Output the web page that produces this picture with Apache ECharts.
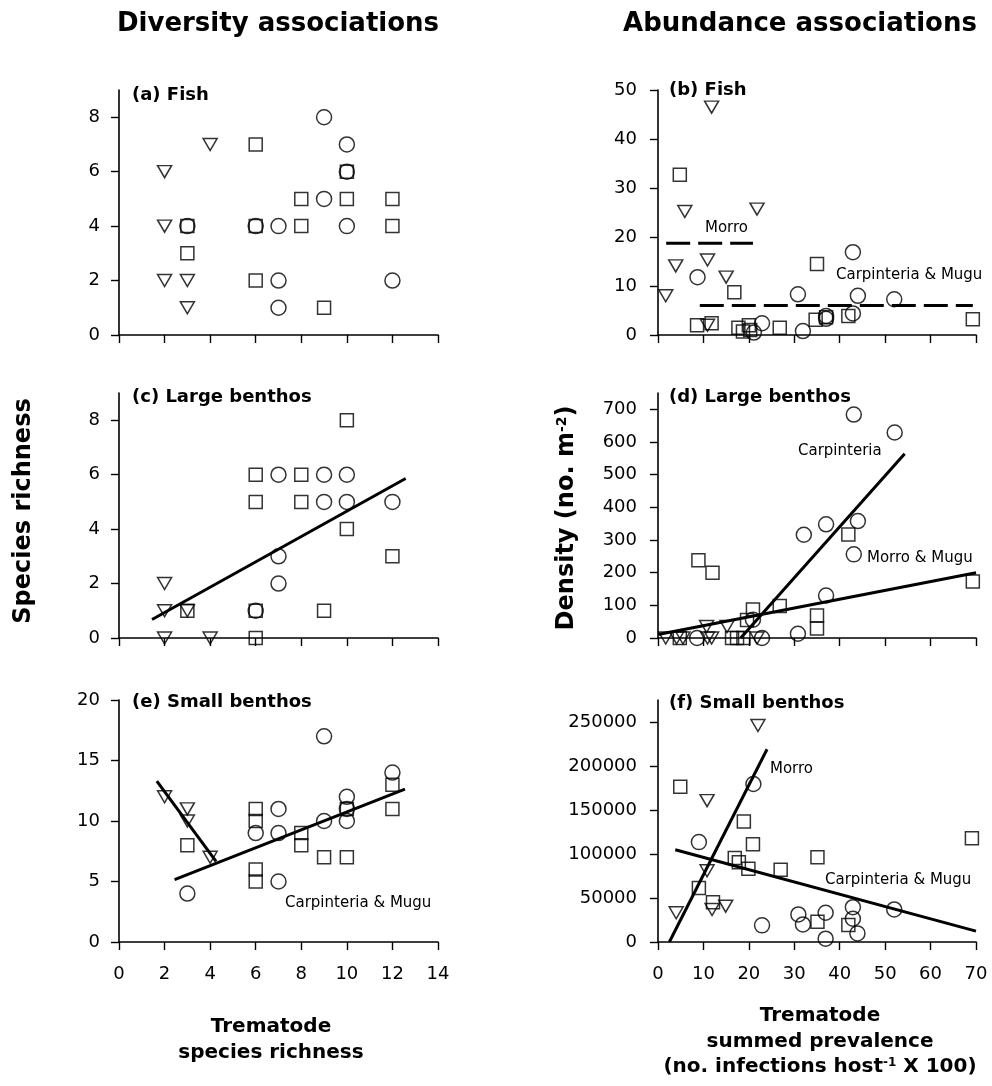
<!DOCTYPE html>
<html>
<head>
<meta charset="utf-8">
<script src="https://cdn.jsdelivr.net/npm/echarts@6/dist/echarts.min.js"></script>
<style>
  html, body { margin: 0; padding: 0; background: #fff; }
  #chart { width: 992px; height: 1086px; }
</style>
</head>
<body>
<div id="chart"></div>
<script>
// ---- (a) Fish: diversity, x = trematode species richness, y = species richness
const fishDivMorro = [[2,6],[2,4],[2,2],[3,2],[3,1],[4,7]];
const fishDivMugu  = [[3,4],[3,3],[6,7],[6,4],[6,2],[8,5],[8,4],[9,1],[10,6],[10,5],[12,5],[12,4]];
const fishDivCarp  = [[9,8],[10,7],[10,6],[9,5],[7,4],[10,4],[7,2],[7,1],[12,2],[3,4],[6,4]];

// ---- (b) Fish: abundance, x = summed prevalence, y = density
const fishAbMorro = [[1.7,8.0],[3.9,14.1],[5.9,25.2],[11.8,46.5],[10.9,15.3],[15.0,11.8],[21.8,25.7],[10.9,2.0]];
const fishAbMugu  = [[4.8,32.7],[8.6,2.0],[11.8,2.4],[16.8,8.7],[17.7,1.5],[18.7,0.7],[20.0,2.0],[20.3,1.0],[26.8,1.5],[35.0,14.5],[34.7,3.1],[37.0,3.6],[41.9,3.9],[69.3,3.2]];
const fishAbCarp  = [[8.7,11.8],[21.1,0.5],[22.9,2.4],[30.8,8.3],[31.9,0.8],[37.0,3.9],[37.0,3.3],[42.9,16.9],[44.0,8.0],[42.9,4.4],[52.0,7.3]];
const fishMorroMean = 18.7, fishMorroSpan = [1.8, 20.9];
const fishCarpMuguMean = 6.0, fishCarpMuguSpan = [9.2, 69.3];

// ---- (c) Large benthos: diversity
const largeDivMorro = [[2,2],[2,1],[3,1],[2,0],[4,0]];
const largeDivMugu  = [[3,1],[6,6],[6,5],[6,1],[6,0],[8,6],[8,5],[9,1],[10,8],[10,4],[12,3]];
const largeDivCarp  = [[7,6],[9,6],[10,6],[9,5],[10,5],[12,5],[7,3],[7,2],[6,1]];
const largeDivFit   = [[1.45,0.68],[12.58,5.86]];

// ---- (d) Large benthos: abundance
const largeAbMorro = [[1.7,0],[4.1,0],[5.5,0],[10.7,35],[10.9,0],[11.8,0],[15.2,35],[21.8,0]];
const largeAbMugu  = [[4.8,0],[8.9,238],[12.0,200],[16.3,0],[17.4,0],[18.8,0],[19.6,55],[20.9,87],[26.8,98],[35.0,69],[35.0,29],[41.9,317],[69.3,173]];
const largeAbCarp  = [[8.6,0],[20.9,56],[22.9,0],[30.8,13],[32.1,316],[37.0,348],[37.0,130],[43.1,684],[43.1,256],[44.0,358],[52.1,629]];
const largeAbCarpFit      = [[18.2,0],[54.3,564]];
const largeAbMorroMuguFit = [[0,11],[70,200]];

// ---- (e) Small benthos: diversity
const smallDivMorro = [[2,12],[3,11],[3,10],[4,7]];
const smallDivMugu  = [[3,8],[6,11],[6,10],[6,6],[6,5],[8,9],[8,8],[9,7],[10,7],[10,11],[12,13],[12,11]];
const smallDivCarp  = [[3,4],[6,9],[7,11],[7,9],[7,5],[9,17],[9,10],[10,12],[10,11],[10,10],[12,14]];
const smallDivMorroFit    = [[1.66,13.3],[4.26,6.66]];
const smallDivCarpMuguFit = [[2.44,5.15],[12.55,12.63]];

// ---- (f) Small benthos: abundance
const smallAbMorro = [[4.0,33200],[10.8,160600],[10.8,81000],[11.9,37000],[14.9,40700],[22.0,246000]];
const smallAbMugu  = [[4.9,176500],[9.0,61500],[12.1,45200],[18.9,136900],[16.9,95400],[17.8,90500],[19.9,83300],[20.9,111200],[27.0,82200],[35.1,96200],[35.1,23000],[41.9,19200],[69.1,118000]];
const smallAbCarp  = [[9.0,113500],[21.0,179500],[22.9,18900],[30.9,31300],[31.9,20000],[36.9,33200],[36.9,3800],[42.9,39600],[42.9,26400],[43.9,9800],[52.0,37000]];
const smallAbMorroFit    = [[2.5,0],[24.0,219000]];
const smallAbCarpMuguFit = [[3.8,104800],[70,12300]];

// ---- axis ticks
const richnessTicks   = [0, 2, 4, 6, 8];
const smallRichTicks  = [0, 5, 10, 15, 20];
const fishDensTicks   = [0, 10, 20, 30, 40, 50];
const largeDensTicks  = [0, 100, 200, 300, 400, 500, 600, 700];
const smallDensTicks  = [0, 50000, 100000, 150000, 200000, 250000];
const tremRichTicks   = [0, 2, 4, 6, 8, 10, 12, 14];
const prevalenceTicks = [0, 10, 20, 30, 40, 50, 60, 70];

const FONT = 'DejaVu Sans';
const INK = '#000';

// panel layout: column (left/right) x row (top/mid/bottom)
const cols = [{ left: 119, width: 319 }, { left: 658, width: 318 }];
const rows = [{ top: 90, height: 245 }, { top: 393, height: 245 }, { top: 700, height: 242 }];

const panels = [
  { col: 0, row: 0, xMax: 14, xTicks: tremRichTicks,   yMax: 9,      yTicks: richnessTicks },
  { col: 1, row: 0, xMax: 70, xTicks: prevalenceTicks, yMax: 50,     yTicks: fishDensTicks },
  { col: 0, row: 1, xMax: 14, xTicks: tremRichTicks,   yMax: 9,      yTicks: richnessTicks },
  { col: 1, row: 1, xMax: 70, xTicks: prevalenceTicks, yMax: 750,    yTicks: largeDensTicks },
  { col: 0, row: 2, xMax: 14, xTicks: tremRichTicks,   yMax: 20,     yTicks: smallRichTicks },
  { col: 1, row: 2, xMax: 70, xTicks: prevalenceTicks, yMax: 275000, yTicks: smallDensTicks }
];

const plain = v => String(v);
const axisLine = { show: true, lineStyle: { color: INK, width: 1.6 } };
const grid = [], xAxis = [], yAxis = [];
panels.forEach((p, i) => {
  grid.push({ left: cols[p.col].left, width: cols[p.col].width, top: rows[p.row].top, height: rows[p.row].height, containLabel: false });
  xAxis.push({
    type: 'value', gridIndex: i, min: 0, max: p.xMax, interval: p.xTicks[1] - p.xTicks[0],
    axisLine: { ...axisLine, onZero: false },
    axisTick: { show: true, inside: false, length: 8, customValues: p.xTicks, lineStyle: { color: INK, width: 1.4 } },
    axisLabel: { show: p.row === 2, customValues: p.xTicks, formatter: plain, margin: 23, color: INK, fontFamily: FONT, fontSize: 18 },
    splitLine: { show: false }
  });
  yAxis.push({
    type: 'value', gridIndex: i, min: 0, max: p.yMax, interval: p.yTicks[1] - p.yTicks[0],
    axisLine: { ...axisLine, onZero: false },
    axisTick: { show: true, inside: false, length: 8, customValues: p.yTicks, lineStyle: { color: INK, width: 1.4 } },
    axisLabel: { show: true, customValues: p.yTicks, formatter: plain, margin: p.col === 0 ? 19 : 21, color: INK, fontFamily: FONT, fontSize: 18 },
    splitLine: { show: false }
  });
});

const open = { color: 'rgba(0,0,0,0)', borderColor: INK, borderWidth: 1.5 };
function pts(i, data, kind) {
  const s = { type: 'scatter', xAxisIndex: i, yAxisIndex: i, data, clip: false, itemStyle: open, silent: true, z: 3 };
  if (kind === 'tri') { s.symbol = 'triangle'; s.symbolRotate = 180; s.symbolSize = [14, 12]; }
  else if (kind === 'sq') { s.symbol = 'rect'; s.symbolSize = 13; }
  else { s.symbol = 'circle'; s.symbolSize = 15; }
  return s;
}
function fit(i, data, dashed) {
  return {
    type: 'line', xAxisIndex: i, yAxisIndex: i, data, symbol: 'none', silent: true, z: 4,
    lineStyle: { color: INK, width: 3, type: dashed ? [24, 8] : 'solid' }
  };
}

const series = [
  pts(0, fishDivMorro, 'tri'), pts(0, fishDivMugu, 'sq'), pts(0, fishDivCarp, 'ci'),
  pts(1, fishAbMorro, 'tri'), pts(1, fishAbMugu, 'sq'), pts(1, fishAbCarp, 'ci'),
  fit(1, [[fishMorroSpan[0], fishMorroMean], [fishMorroSpan[1], fishMorroMean]], true),
  fit(1, [[fishCarpMuguSpan[0], fishCarpMuguMean], [fishCarpMuguSpan[1], fishCarpMuguMean]], true),
  pts(2, largeDivMorro, 'tri'), pts(2, largeDivMugu, 'sq'), pts(2, largeDivCarp, 'ci'),
  fit(2, largeDivFit),
  pts(3, largeAbMorro, 'tri'), pts(3, largeAbMugu, 'sq'), pts(3, largeAbCarp, 'ci'),
  fit(3, largeAbCarpFit), fit(3, largeAbMorroMuguFit),
  pts(4, smallDivMorro, 'tri'), pts(4, smallDivMugu, 'sq'), pts(4, smallDivCarp, 'ci'),
  fit(4, smallDivMorroFit), fit(4, smallDivCarpMuguFit),
  pts(5, smallAbMorro, 'tri'), pts(5, smallAbMugu, 'sq'), pts(5, smallAbCarp, 'ci'),
  fit(5, smallAbMorroFit), fit(5, smallAbCarpMuguFit)
];

function txt(x, y, text, size, bold, opts) {
  return Object.assign({
    type: 'text', x, y, silent: true,
    style: Object.assign({
      text, fill: INK, font: (bold ? 'bold ' : '') + size + 'px "' + FONT + '"',
      align: 'left', verticalAlign: 'middle'
    }, opts || {})
  });
}
function centered(x, y, text, size, bold, extra) {
  return txt(x, y, text, size, bold, Object.assign({ align: 'center' }, extra || {}));
}

const graphic = [
  centered(278, 24, 'Diversity associations', 26, true),
  centered(800, 24, 'Abundance associations', 26, true),

  txt(132, 95, '(a) Fish', 18, true),
  txt(669, 90, '(b) Fish', 18, true),
  txt(132, 397, '(c) Large benthos', 18, true),
  txt(669, 397, '(d) Large benthos', 18, true),
  txt(132, 702, '(e) Small benthos', 18, true),
  txt(669, 703, '(f) Small benthos', 18, true),

  txt(705, 228, 'Morro', 15, false),
  txt(836, 275, 'Carpinteria & Mugu', 15, false),
  txt(798, 451, 'Carpinteria', 15, false),
  txt(867, 558, 'Morro & Mugu', 15, false),
  txt(285, 903, 'Carpinteria & Mugu', 15, false),
  txt(770, 769, 'Morro', 15, false),
  txt(825, 880, 'Carpinteria & Mugu', 15, false),

  Object.assign(centered(24, 511, 'Species richness', 24, true), { rotation: Math.PI / 2 }),
  Object.assign(centered(567, 518, 'Density (no. m{sup|-2})', 24, true, {
    rich: { sup: { fontFamily: FONT, fontWeight: 'bold', fontSize: 14, verticalAlign: 'top', fill: INK } }
  }), { rotation: Math.PI / 2 }),

  centered(271, 1027, 'Trematode', 20, true),
  centered(271, 1053, 'species richness', 20, true),
  centered(820, 1016, 'Trematode', 20, true),
  centered(820, 1042, 'summed prevalence', 20, true),
  centered(820, 1067, '(no. infections host{sup|-1} X 100)', 20, true, {
    rich: { sup: { fontFamily: FONT, fontWeight: 'bold', fontSize: 12, verticalAlign: 'top', fill: INK } }
  })
];

const chart = echarts.init(document.getElementById('chart'), null, { renderer: 'canvas' });
chart.setOption({
  animation: false,
  backgroundColor: '#fff',
  textStyle: { fontFamily: FONT },
  grid, xAxis, yAxis, series, graphic
});
</script>
</body>
</html>
